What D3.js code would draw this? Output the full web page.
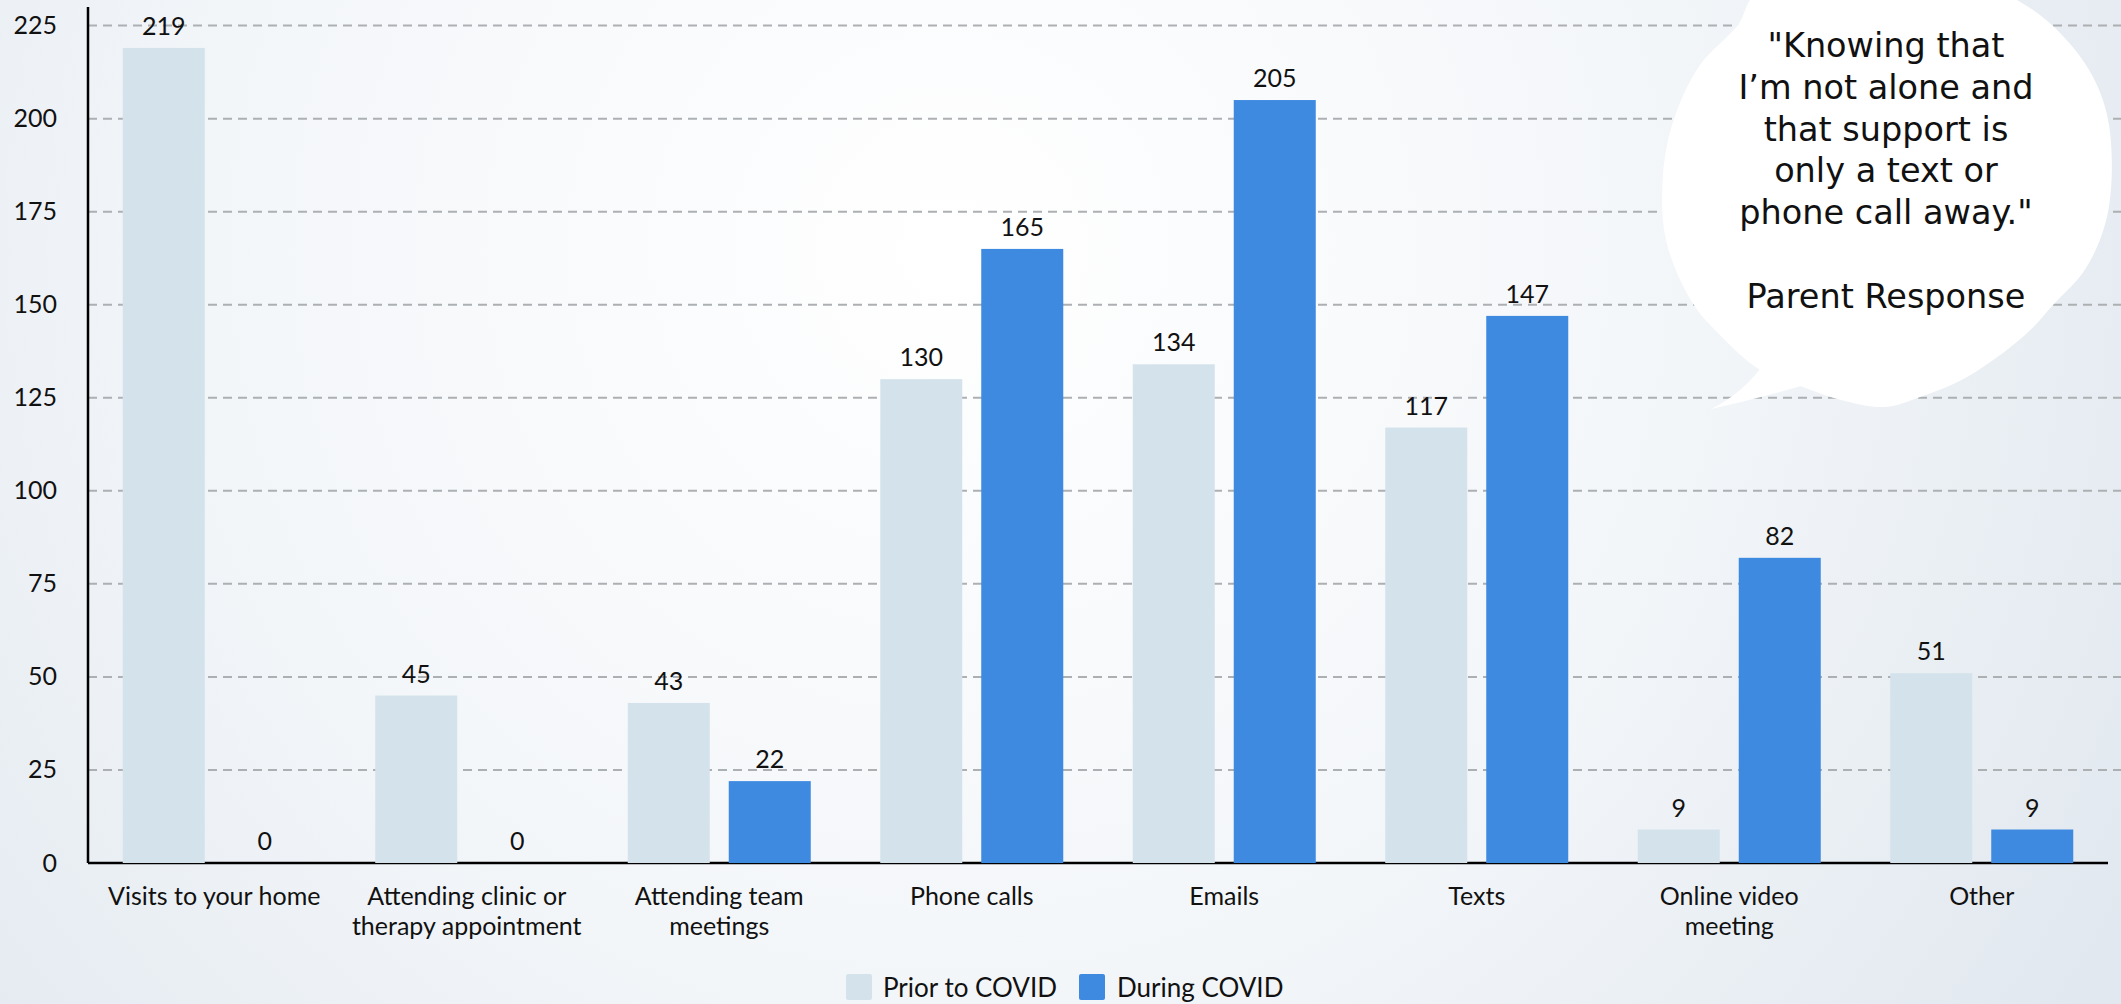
<!DOCTYPE html>
<html>
<head>
<meta charset="utf-8">
<script src="https://cdn.jsdelivr.net/npm/d3@7"></script>
<style>
  html, body { margin: 0; padding: 0; background: #ffffff; }
  svg { display: block; }
</style>
</head>
<body>
<svg id="chart" width="2121" height="1004"></svg>
<script>
// Contact types and counts, before and during COVID
const categories = [
  ["Visits to your home"],
  ["Attending clinic or", "therapy appointment"],
  ["Attending team", "meetings"],
  ["Phone calls"],
  ["Emails"],
  ["Texts"],
  ["Online video", "meeting"],
  ["Other"]
];
const priorValues = [219, 45, 43, 130, 134, 117, 9, 51];
const duringValues = [0, 0, 22, 165, 205, 147, 82, 9];
const seriesNames = ["Prior to COVID", "During COVID"];
const yTicks = [0, 25, 50, 75, 100, 125, 150, 175, 200, 225];
const quoteLines = ["\"Knowing that", "I\u2019m not alone and", "that support is", "only a text or", "phone call away.\"", "", "Parent Response"];

const W = 2121, H = 1004;
const colors = ["#d4e3eb", "#3e8ae1"];
const svg = d3.select("#chart");
const FONT = "Lato, 'Noto Sans', sans-serif";

// Soft background wash
const defs = svg.append("defs");
const grad = defs.append("radialGradient").attr("id", "bg")
  .attr("gradientUnits", "userSpaceOnUse")
  .attr("cx", 950).attr("cy", 250).attr("r", 1350);
grad.append("stop").attr("offset", "0").attr("stop-color", "#ffffff");
grad.append("stop").attr("offset", "0.55").attr("stop-color", "#f3f6f9");
grad.append("stop").attr("offset", "1").attr("stop-color", "#e1e8ef");
svg.append("rect").attr("width", W).attr("height", H).attr("fill", "url(#bg)");

const plotLeft = 88, plotRight = 2108, plotTop = 7, plotBottom = 863;

const x0 = d3.scaleBand().domain(d3.range(categories.length))
  .range([plotLeft, plotRight]).padding(0);
const x1 = d3.scaleBand().domain([0, 1]).range([0, x0.bandwidth()])
  .paddingInner(0.188).paddingOuter(0.344);
const y = d3.scaleLinear().domain([0, 230]).range([plotBottom, plotTop]);

// Dashed gridlines
svg.append("g").selectAll("line")
  .data(yTicks.filter(t => t > 0))
  .join("line")
  .attr("x1", plotLeft).attr("x2", W)
  .attr("y1", d => y(d)).attr("y2", d => y(d))
  .attr("stroke", "#adb0b3").attr("stroke-width", 2)
  .attr("stroke-dasharray", "9,6");

// Y axis
const yAxis = svg.append("g").attr("transform", `translate(${plotLeft},0)`)
  .call(d3.axisLeft(y).tickValues(yTicks).tickSize(0).tickPadding(31));
yAxis.select(".domain").remove();
yAxis.selectAll("text").attr("font-family", FONT).attr("font-size", 25).attr("fill", "#111");
svg.append("line").attr("x1", plotLeft).attr("x2", plotLeft).attr("y1", plotTop).attr("y2", plotBottom)
  .attr("stroke", "#000").attr("stroke-width", 2.5);
svg.append("line").attr("x1", plotLeft).attr("x2", plotRight).attr("y1", plotBottom).attr("y2", plotBottom)
  .attr("stroke", "#000").attr("stroke-width", 2.5);

// Bars
const rows = categories.map((c, i) => ({ i, vals: [priorValues[i], duringValues[i]] }));
const groups = svg.append("g").selectAll("g").data(rows).join("g")
  .attr("transform", d => `translate(${x0(d.i)},0)`);
groups.selectAll("rect").data(d => d.vals.map((v, s) => ({ v, s })))
  .join("rect")
  .attr("x", d => x1(d.s)).attr("width", x1.bandwidth())
  .attr("y", d => y(d.v)).attr("height", d => plotBottom - y(d.v))
  .attr("fill", d => colors[d.s]);
groups.selectAll("text.val").data(d => d.vals.map((v, s) => ({ v, s })))
  .join("text").attr("class", "val")
  .attr("x", d => x1(d.s) + x1.bandwidth() / 2)
  .attr("y", d => y(d.v) - 13)
  .attr("text-anchor", "middle")
  .attr("font-family", FONT).attr("font-size", 25).attr("fill", "#111")
  .text(d => d.v);

// Category labels
const catG = svg.append("g").selectAll("text").data(categories).join("text")
  .attr("x", (d, i) => x0(i) + x0.bandwidth() / 2)
  .attr("y", 905)
  .attr("text-anchor", "middle")
  .attr("font-family", FONT).attr("font-size", 25).attr("fill", "#111");
catG.selectAll("tspan").data(d => d).join("tspan")
  .attr("x", function () { return d3.select(this.parentNode).attr("x"); })
  .attr("dy", (d, j) => j === 0 ? 0 : 30)
  .text(d => d);

// Legend
const legend = svg.append("g");
const legendItems = [{ x: 846, tx: 883 }, { x: 1079, tx: 1117 }];
legendItems.forEach((p, s) => {
  legend.append("rect").attr("x", p.x).attr("y", 974).attr("width", 26).attr("height", 26)
    .attr("rx", 2).attr("fill", colors[s]);
  legend.append("text").attr("x", p.tx).attr("y", 997)
    .attr("font-family", FONT).attr("font-size", 26).attr("fill", "#111")
    .text(seriesNames[s]);
});

// Speech bubble with quote: rounded body plus a pointed tail
const cloudPts = [
  [1755, -5], [1830, -20], [1920, -22], [1990, -12], [2030, 8], [2062, 35],
  [2092, 75], [2109, 125], [2108, 212], [2086, 268], [2053, 305], [2025, 335],
  [1967, 377], [1920, 397], [1885, 407], [1845, 401], [1800, 386], [1760, 370],
  [1718, 333], [1692, 302], [1666, 240], [1663, 175], [1674, 119], [1700, 65], [1738, 25]
];
svg.append("path")
  .attr("d", d3.line().curve(d3.curveCatmullRomClosed.alpha(0.5))(cloudPts))
  .attr("fill", "#ffffff");
svg.append("path")
  .attr("d", "M1765,362 Q1745,392 1711,409 Q1760,398 1808,384 Z")
  .attr("fill", "#ffffff");

svg.append("g").selectAll("text").data(quoteLines).join("text")
  .attr("x", 1886)
  .attr("y", (d, i) => 57 + i * 41.8)
  .attr("text-anchor", "middle")
  .attr("font-family", "'DejaVu Sans', 'Noto Sans', sans-serif")
  .attr("font-size", 33.5).attr("fill", "#111")
  .text(d => d);
</script>
</body>
</html>
